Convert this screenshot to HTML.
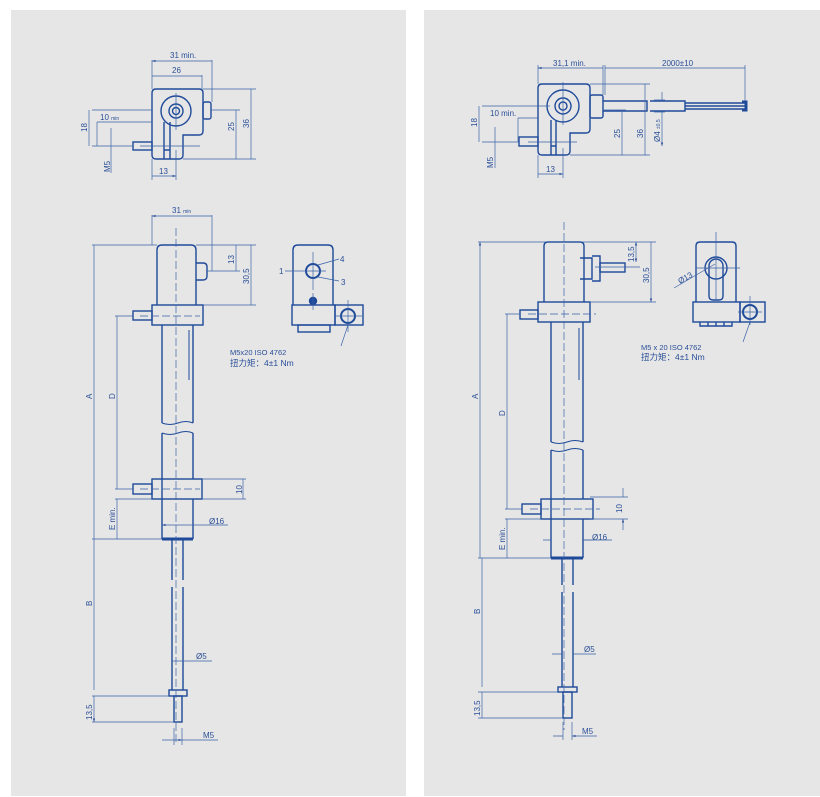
<!DOCTYPE html>
<html><head><meta charset="utf-8"><style>
html,body{margin:0;padding:0;background:#fff;}
svg{display:block;}
text{font-family:"Liberation Sans","Noto Sans CJK SC",sans-serif;fill:#2a4f98;}
</style></head><body>
<svg width="820" height="797" viewBox="0 0 820 797" xmlns="http://www.w3.org/2000/svg">
<defs>
<marker id="a" viewBox="0 0 6 6" refX="6" refY="3" markerWidth="5" markerHeight="5" orient="auto-start-reverse"><path d="M0,1 L6,3 L0,5z" fill="#2a4f98"/></marker>
</defs>
<rect x="11" y="10" width="395" height="786" fill="#e6e6e6"/>
<rect x="424" y="10" width="396" height="786" fill="#e6e6e6"/>

<!-- ================= LEFT PANEL ================= -->
<g stroke="#1f4a9a" fill="none" stroke-width="1.4">
 <!-- top view body -->
 <path d="M156,89 H199 Q203,89 203,93 V131 Q203,135 199,135 H183 V155 Q183,159 179,159 H156 Q152,159 152,155 V93 Q152,89 156,89Z"/>
 <path d="M164,122 V159 M170,122 V159 M164,150 H170"/>
 <circle cx="176" cy="111" r="15"/>
 <circle cx="176" cy="111" r="7"/>
 <circle cx="176" cy="111" r="3.5"/>
 <rect x="203" y="102" width="8" height="17" rx="2"/>
 <rect x="133" y="142" width="19" height="8"/>
 <!-- side view -->
 <path d="M157,305 V250 Q157,245 162,245 H191 Q196,245 196,250 V305"/>
 <path d="M196,263 H203 Q207,263 207,267 V276 Q207,280 203,280 H196"/>
 <rect x="152" y="305" width="51" height="20"/>
 <rect x="133" y="311" width="19" height="9"/>
 <path d="M162,325 V423 M193,325 V423 M162,433 V539 M193,433 V479"/>
 <path d="M162,423 q8,3 16,0 t15,0 M162,433 q8,3 16,0 t15,0" stroke-width="1"/>
 <path d="M189,330 V380" stroke-width="1"/>
 <rect x="152" y="479" width="50" height="20"/>
 <rect x="133" y="484" width="19" height="10"/>
 <path d="M193,499 V539"/>
 <path d="M162,539 H193" stroke-width="3"/>
 <path d="M172,539 V580 M183,539 V580 M172,587 V690 M183,587 V690"/>
 <rect x="169" y="690" width="18" height="6"/>
 <rect x="174" y="696" width="8" height="26"/>
 <!-- right view -->
 <path d="M293,305 V250 Q293,245 298,245 H328 Q333,245 333,250 V305"/>
 <circle cx="313" cy="271" r="7" stroke-width="2"/>
 <circle cx="313" cy="301" r="3.5" fill="#1f4a9a"/>
 <rect x="292" y="305" width="43" height="20"/>
 <rect x="335" y="305" width="28" height="20"/>
 <circle cx="348" cy="316" r="7" stroke-width="2"/>
 <rect x="298" y="325" width="32" height="7"/>
</g>
<!-- left dims/thin -->
<g stroke="#3a63a8" fill="none" stroke-width="0.7">
 <path d="M176,93 V130 M140,146 H200 M152,60 V89 M212,60 V102 M202,75 V89 M203,89 H256 M211,110 H240 M183,159 H256 M152,159 V180 M176,150 V180 M92,110 H152 M92,146 H133 M97,122 V146 M111,128 V173"/>
 <path d="M152,61 H212 M152,76 H202 M251,89 V159 M236,110 V159 M89,110 V146 M97,122 H152 M152,176 H176" marker-start="url(#a)" marker-end="url(#a)"/>
 <path d="M176,228 V745 M140,316 H200 M140,489 H200" stroke-dasharray="8,3"/>
 <path d="M152,215 V245 M212,215 V271 M196,245 H256 M207,271 H240 M203,305 H256 M92,245 H157 M115,316 H133 M115,489 H133 M202,479 H246 M202,499 H246 M115,499 H152 M92,539 H162 M92,696 H169 M92,722 H174 M174,728 V745 M182,728 V745"/>
 <path d="M152,216 H212 M236,245 V271 M251,245 V305 M94,245 V539 M117,316 V489 M243,479 V499 M117,499 V539 M94,539 V690 M94,696 V722" marker-start="url(#a)" marker-end="url(#a)"/>
 <path d="M162,525 H193 M172,661 H183 M174,740 H182" marker-start="url(#a)" marker-end="url(#a)"/>
 <path d="M193,525 H228 M183,661 H212 M182,740 H218 M162,740 H174"/>
 <path d="M313,252 V290 M300,271 H326 M313,293 V310 M348,300 V332 M334,316 H362 M285,271 H306 M318,265 L339,259 M318,277 L339,281 M348,325 L341,346"/>
</g>
<g font-size="8">
 <text x="170" y="58">31 min.</text>
 <text x="172" y="73">26</text>
 <text x="100" y="120">10 <tspan font-size="5">min</tspan></text>
 <text x="159" y="174">13</text>
 <text x="172" y="213">31 <tspan font-size="5">min</tspan></text>
 <text x="279" y="274">1</text>
 <text x="340" y="262">4</text>
 <text x="341" y="285">3</text>
 <text x="209" y="524">Ø16</text>
 <text x="196" y="659">Ø5</text>
 <text x="203" y="738">M5</text>
 <text x="230" y="355" font-size="7.5">M5x20 ISO 4762</text>
 <text x="230" y="366" font-size="8.5">扭力矩：4±1 Nm</text>
 <text transform="translate(87,132) rotate(-90)">18</text>
 <text transform="translate(110,172) rotate(-90)">M5</text>
 <text transform="translate(234,131) rotate(-90)">25</text>
 <text transform="translate(249,128) rotate(-90)">36</text>
 <text transform="translate(234,264) rotate(-90)">13</text>
 <text transform="translate(249,284) rotate(-90)">30,5</text>
 <text transform="translate(92,399) rotate(-90)">A</text>
 <text transform="translate(115,399) rotate(-90)">D</text>
 <text transform="translate(242,494) rotate(-90)">10</text>
 <text transform="translate(115,530) rotate(-90)">E min.</text>
 <text transform="translate(92,606) rotate(-90)">B</text>
 <text transform="translate(92,720) rotate(-90)">13,5</text>
</g>

<!-- ================= RIGHT PANEL ================= -->
<g stroke="#1f4a9a" fill="none" stroke-width="1.4">
 <path d="M542,84 H586 Q590,84 590,88 V129 Q590,133 586,133 H570 V151 Q570,155 566,155 H542 Q538,155 538,151 V88 Q538,84 542,84Z"/>
 <path d="M551,120 V155 M556,120 V155 M551,146 H556"/>
 <circle cx="563" cy="106" r="16"/>
 <circle cx="563" cy="106" r="8"/>
 <circle cx="563" cy="106" r="4"/>
 <rect x="590" y="95" width="13" height="23" rx="2"/>
 <path d="M603,101 H647 V111 H603 M650,101 H685 V111 H650 M685,103 H745 M685,106 H745 M685,109 H745"/>
 <path d="M742,102 H746 V110 H742" stroke-width="3"/>
 <rect x="519" y="137" width="19" height="9"/>
 <!-- side -->
 <path d="M544,302 V246 Q544,242 548,242 H580 Q584,242 584,246 V302"/>
 <path d="M580,258 H592 V279 H580 M592,256 H600 V281 H592"/>
 <rect x="600" y="263" width="25" height="9"/>
 <rect x="538" y="302" width="52" height="20"/>
 <rect x="520" y="310" width="18" height="9"/>
 <path d="M551,322 V442 M583,322 V442 M551,450 V558 M583,450 V499"/>
 <path d="M551,442 q8,3 16,0 t16,0 M551,450 q8,3 16,0 t16,0" stroke-width="1"/>
 <path d="M579,328 V380" stroke-width="1"/>
 <rect x="541" y="499" width="52" height="20"/>
 <rect x="522" y="504" width="19" height="10"/>
 <path d="M583,519 V558"/>
 <path d="M551,558 H583" stroke-width="3"/>
 <path d="M562,558 V585 M573,558 V585 M562,592 V687 M573,592 V687"/>
 <rect x="558" y="687" width="19" height="5"/>
 <rect x="563" y="692" width="9" height="26"/>
 <!-- right view -->
 <path d="M696,302 V246 Q696,242 700,242 H732 Q736,242 736,246 V302"/>
 <circle cx="716" cy="268" r="11"/>
 <path d="M709,266 V296 Q709,300 713,300 H719 Q723,300 723,296 V266 A7,7 0 0 0 709,266Z"/>
 <rect x="693" y="302" width="47" height="20"/>
 <rect x="740" y="302" width="25" height="20"/>
 <circle cx="750" cy="312" r="7" stroke-width="2"/>
 <path d="M700,322 V326 H732 V322 M708,322 V326 M716,322 V326 M724,322 V326"/>
</g>
<g stroke="#3a63a8" fill="none" stroke-width="0.7">
 <path d="M563,82 V125 M528,142 H577 M538,65 V84 M603,65 V95 M605,65 V95 M745,65 V101 M590,84 H650 M570,155 H650 M603,110 H626 M538,155 V178 M563,148 V178 M482,106 H550 M482,142 H519 M518,118 V142 M495,127 V168 M654,100 H665 M654,112 H665"/>
 <path d="M538,68 H603 M605,68 H745 M622,110 V155 M645,84 V155 M479,106 V142 M518,118 H538 M538,174 H563" marker-start="url(#a)" marker-end="url(#a)"/>
 <path d="M662,92 V100 M662,112 V146" marker-end="url(#a)"/>
 <path d="M564,222 V730 M528,314 H596 M530,509 H600" stroke-dasharray="8,3"/>
 <path d="M478,242 H584 M584,242 H656 M595,267 H640 M590,302 H656 M505,314 H520 M505,509 H522 M590,497 H628 M590,519 H628 M505,519 H541 M478,558 H551 M478,692 H558 M478,718 H563 M563,722 V740 M572,722 V740"/>
 <path d="M480,242 V558 M507,314 V509 M507,519 V558 M482,558 V687 M482,692 V718 M651,242 V302" marker-start="url(#a)" marker-end="url(#a)"/>
 <path d="M636,242 V262" marker-start="url(#a)" marker-end="url(#a)"/>
 <path d="M623,488 V497 M623,530 V519" marker-end="url(#a)"/>
 <path d="M543,540 H551 M592,540 H583 M552,654 H562 M582,654 H573 M553,736 H563 M582,736 H572" marker-end="url(#a)"/>
 <path d="M583,540 H612 M582,654 H596 M582,736 H597"/>
 <path d="M716,232 V300 M696,268 H740 M750,296 V325 M738,312 H762 M674,288 L715,264 M750,322 L743,342"/>
</g>
<g font-size="8">
 <text x="553" y="66">31,1 min.</text>
 <text x="662" y="66">2000±10</text>
 <text x="490" y="116">10 min.</text>
 <text x="546" y="172">13</text>
 <text x="592" y="540">Ø16</text>
 <text x="584" y="652">Ø5</text>
 <text x="582" y="734">M5</text>
 <text transform="translate(680,284) rotate(-30)">Ø13</text>
 <text x="641" y="350" font-size="7.5">M5 x 20 ISO 4762</text>
 <text x="641" y="360" font-size="8.5">扭力矩：4±1 Nm</text>
 <text transform="translate(477,127) rotate(-90)">18</text>
 <text transform="translate(493,168) rotate(-90)">M5</text>
 <text transform="translate(620,138) rotate(-90)">25</text>
 <text transform="translate(643,138) rotate(-90)">36</text>
 <text transform="translate(660,142) rotate(-90)">Ø4 <tspan font-size="5">±0,5</tspan></text>
 <text transform="translate(634,262) rotate(-90)">13,5</text>
 <text transform="translate(649,283) rotate(-90)">30,5</text>
 <text transform="translate(478,399) rotate(-90)">A</text>
 <text transform="translate(505,416) rotate(-90)">D</text>
 <text transform="translate(622,513) rotate(-90)">10</text>
 <text transform="translate(505,550) rotate(-90)">E min.</text>
 <text transform="translate(480,614) rotate(-90)">B</text>
 <text transform="translate(480,716) rotate(-90)">13,5</text>
</g>
</svg>
</body></html>
